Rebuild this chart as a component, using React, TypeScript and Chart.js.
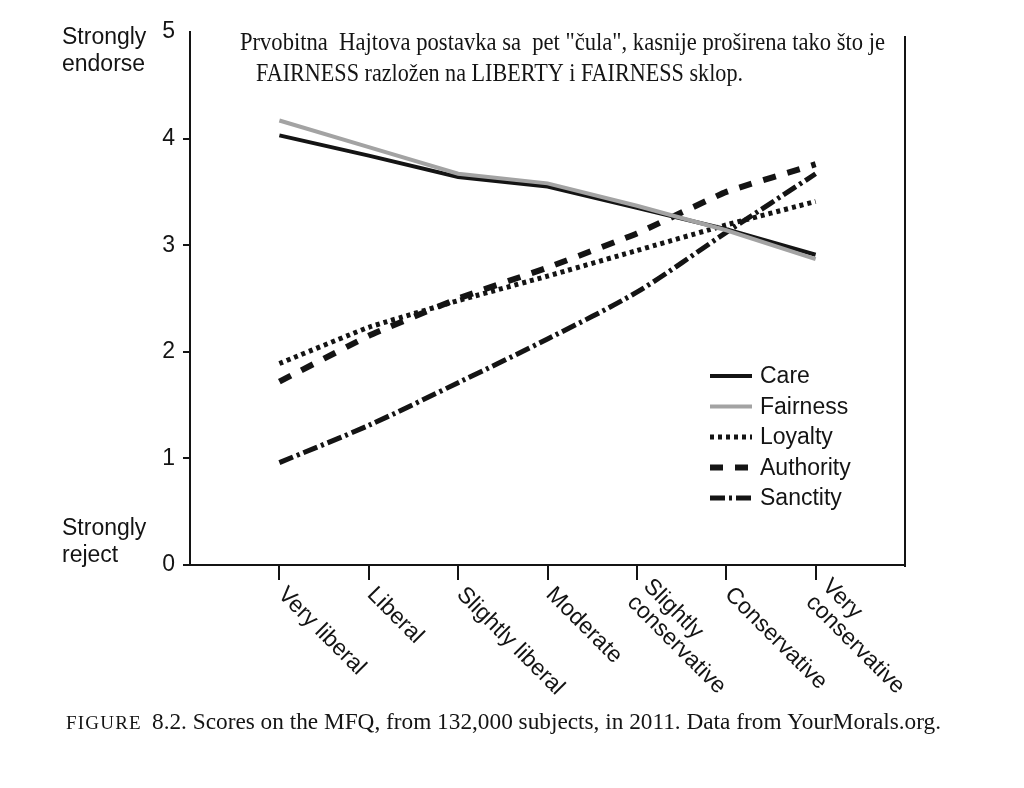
import React, { useEffect, useRef } from 'react';
import { Chart, registerables } from 'chart.js';
Chart.register(...registerables);

const categories: string[][] = [
  ['Very liberal'],
  ['Liberal'],
  ['Slightly liberal'],
  ['Moderate'],
  ['Slightly', 'conservative'],
  ['Conservative'],
  ['Very', 'conservative'],
];
const positions = [1, 2, 3, 4, 5, 6, 7];
const care = [4.03, 3.84, 3.64, 3.55, 3.35, 3.15, 2.91];
const fairness = [4.17, 3.92, 3.67, 3.58, 3.37, 3.14, 2.87];
const loyalty = [1.89, 2.23, 2.48, 2.71, 2.95, 3.19, 3.41];
const authority = [1.72, 2.15, 2.5, 2.79, 3.11, 3.5, 3.76];
const sanctity = [0.96, 1.31, 1.71, 2.12, 2.56, 3.12, 3.67];
const yTicks = [0, 1, 2, 3, 4, 5];
const seriesNames = ['Care', 'Fairness', 'Loyalty', 'Authority', 'Sanctity'];
const titleLines = [
  'Prvobitna  Hajtova postavka sa  pet "čula", kasnije proširena tako što je',
  'FAIRNESS razložen na LIBERTY i FAIRNESS sklop.',
];
const yTopLabel = ['Strongly', 'endorse'];
const yBottomLabel = ['Strongly', 'reject'];
const captionLead = 'FIGURE';
const captionText = '8.2. Scores on the MFQ, from 132,000 subjects, in 2011. Data from YourMorals.org.';

const SANS = '"Liberation Sans", Arial, sans-serif';
const SERIF = '"Liberation Serif", "Times New Roman", serif';
const INK = '#141414';
const GRAY = '#a3a3a3';

const styles = [
  { color: INK, width: 4, dash: [] as number[], tension: 0 },
  { color: GRAY, width: 4, dash: [] as number[], tension: 0 },
  { color: INK, width: 5, dash: [4, 4], tension: 0.1 },
  { color: INK, width: 6, dash: [13, 12], tension: 0.1 },
  { color: INK, width: 5, dash: [15, 4, 3, 4], tension: 0.3 },
];
const seriesValues = [care, fairness, loyalty, authority, sanctity];

const decorPlugin = {
  id: 'decor',
  afterDraw(chart: any) {
    const { ctx, chartArea } = chart;
    const xs = chart.scales.x;
    ctx.save();
    // right border
    ctx.strokeStyle = INK;
    ctx.lineWidth = 2;
    ctx.beginPath();
    ctx.moveTo(chartArea.right, chartArea.top + 4);
    ctx.lineTo(chartArea.right, chartArea.bottom + 2);
    ctx.stroke();

    // x labels rotated
    ctx.fillStyle = INK;
    ctx.font = `23px ${SANS}`;
    ctx.textAlign = 'left';
    ctx.textBaseline = 'middle';
    categories.forEach((lines, i) => {
      const px = xs.getPixelForValue(positions[i]);
      ctx.save();
      ctx.translate(px + 2, chartArea.bottom + 26);
      ctx.rotate(Math.PI / 4);
      lines.forEach((t, j) => {
        ctx.fillText(t, 0, (j - (lines.length - 1) / 2) * 23);
      });
      ctx.restore();
    });

    // y side labels
    ctx.font = `23px ${SANS}`;
    yTopLabel.forEach((t, j) => ctx.fillText(t, 62, 38 + j * 26.5));
    yBottomLabel.forEach((t, j) => ctx.fillText(t, 62, 529 + j * 26.5));

    // legend
    const lx = chartArea.left + 520;
    const ly = 376;
    seriesNames.forEach((name, i) => {
      const s = styles[i];
      const y = ly + i * 30.5;
      ctx.save();
      ctx.strokeStyle = s.color;
      ctx.lineWidth = s.width;
      ctx.setLineDash(s.dash);
      ctx.beginPath();
      ctx.moveTo(lx, y);
      ctx.lineTo(lx + 42, y);
      ctx.stroke();
      ctx.restore();
      ctx.fillStyle = INK;
      ctx.font = `23px ${SANS}`;
      ctx.fillText(name, lx + 50, y + 1);
    });

    // title
    ctx.font = `25px ${SERIF}`;
    ctx.fillStyle = INK;
    ctx.fillText(titleLines[0], 240, 43, 645);
    ctx.fillText(titleLines[1], 256, 74, 487);

    // caption
    ctx.font = `19px ${SERIF}`;
    (ctx as any).letterSpacing = '1.2px';
    ctx.fillText(captionLead, 66, 724, 76);
    (ctx as any).letterSpacing = '0px';
    ctx.font = `24px ${SERIF}`;
    ctx.fillText(captionText, 152, 723, 789);
    ctx.restore();
  },
};

export default function App() {
  const ref = useRef<HTMLCanvasElement>(null);
  useEffect(() => {
    if (!ref.current) return;
    const chart = new Chart(ref.current, {
      type: 'line',
      data: {
        datasets: seriesNames.map((name, i) => ({
          label: name,
          data: positions.map((p, k) => ({ x: p, y: seriesValues[i][k] })),
          borderColor: styles[i].color,
          borderWidth: styles[i].width,
          borderDash: styles[i].dash,
          borderCapStyle: 'butt',
          tension: styles[i].tension,
          pointRadius: 0,
          fill: false,
          order: i === 1 ? 0 : i + 1,
        })),
      },
      options: {
        animation: false,
        responsive: false,
        maintainAspectRatio: false,
        layout: { padding: { left: 0, right: 119, top: 32, bottom: 0 } },
        plugins: { legend: { display: false }, tooltip: { enabled: false }, title: { display: false } },
        scales: {
          x: {
            type: 'linear',
            min: 0,
            max: 8,
            afterBuildTicks: (scale: any) => {
              scale.ticks = positions.map((v) => ({ value: v }));
            },
            afterFit: (scale: any) => {
              scale.height = 788 - 32 - 533;
            },
            ticks: { display: false },
            grid: { drawOnChartArea: false, drawTicks: true, tickLength: 15, color: INK, lineWidth: 2 },
            border: { display: true, color: INK, width: 2 },
          },
          y: {
            min: 0,
            max: 5,
            afterBuildTicks: (scale: any) => {
              scale.ticks = yTicks.map((v) => ({ value: v }));
            },
            afterFit: (scale: any) => {
              scale.width = 190;
            },
            ticks: { color: INK, font: { family: SANS, size: 23 }, padding: 8 },
            grid: {
              drawOnChartArea: false,
              drawTicks: true,
              tickLength: 7,
              color: (c: any) => (c.tick && c.tick.value === 5 ? 'rgba(0,0,0,0)' : INK),
              lineWidth: 2,
            },
            border: { display: true, color: INK, width: 2 },
          },
        },
      },
      plugins: [decorPlugin],
    } as any);
    return () => chart.destroy();
  }, []);
  return (
    <div style={{ position: 'fixed', left: 0, top: 0, width: 1024, height: 788, background: '#fff' }}>
      <canvas ref={ref} width={1024} height={788} style={{ width: 1024, height: 788 }} />
    </div>
  );
}
